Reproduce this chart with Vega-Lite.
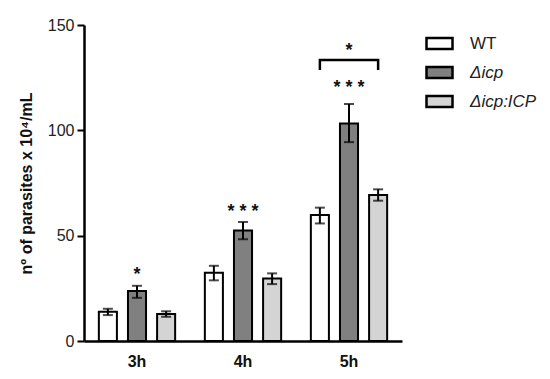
{
  "$schema": "https://vega.github.io/schema/vega-lite/v6.json",
  "width": 318,
  "height": 316,
  "autosize": "none",
  "padding": {"left": 84, "top": 25, "right": 148, "bottom": 38},
  "background": "white",
  "config": {"view": {"stroke": null}, "font": "Liberation Sans"},
  "datasets": {
    "bars": [
      {"time": "3h", "strain": "WT", "value": 13.9, "lo": 12.3, "hi": 15.3},
      {"time": "3h", "strain": "Δicp", "value": 23.7, "lo": 20.5, "hi": 26.2},
      {"time": "3h", "strain": "Δicp:ICP", "value": 12.8, "lo": 11.5, "hi": 14.1},
      {"time": "4h", "strain": "WT", "value": 32.4, "lo": 28.8, "hi": 35.7},
      {"time": "4h", "strain": "Δicp", "value": 52.4, "lo": 48.3, "hi": 56.5},
      {"time": "4h", "strain": "Δicp:ICP", "value": 29.7, "lo": 27.0, "hi": 32.1},
      {"time": "5h", "strain": "WT", "value": 59.8, "lo": 55.8, "hi": 63.3},
      {"time": "5h", "strain": "Δicp", "value": 103.3, "lo": 94.4, "hi": 112.5},
      {"time": "5h", "strain": "Δicp:ICP", "value": 69.3, "lo": 66.6, "hi": 72.0}
    ],
    "stars": [
      {"time": "3h", "strain": "Δicp", "y": 33.7, "label": "*"},
      {"time": "4h", "strain": "Δicp", "y": 63.6, "label": "* * *"},
      {"time": "5h", "strain": "Δicp", "y": 122.4, "label": "* * *"},
      {"time": "5h", "strain": "Δicp", "y": 140.0, "label": "*"}
    ],
    "bracket": [
      {"time": "5h", "strain": "WT", "y": 128.6, "step": 1},
      {"time": "5h", "strain": "WT", "y": 133.4, "step": 2},
      {"time": "5h", "strain": "Δicp:ICP", "y": 133.4, "step": 3},
      {"time": "5h", "strain": "Δicp:ICP", "y": 128.6, "step": 4}
    ]
  },
  "encoding": {
    "x": {
      "field": "time",
      "type": "nominal",
      "scale": {"domain": ["3h", "4h", "5h"], "paddingInner": 0, "paddingOuter": 0},
      "axis": {
        "title": null,
        "labelAngle": 0,
        "ticks": false,
        "domainColor": "black",
        "domainWidth": 2.5,
        "labelFontSize": 16,
        "labelFontWeight": "bold",
        "labelColor": "#111",
        "labelPadding": 12
      }
    },
    "xOffset": {
      "field": "strain",
      "type": "nominal",
      "scale": {"domain": ["WT", "Δicp", "Δicp:ICP"], "paddingInner": 0.38, "paddingOuter": 0.51}
    }
  },
  "layer": [
    {
      "data": {"name": "bars"},
      "mark": {"type": "bar", "stroke": "black", "strokeWidth": 2},
      "encoding": {
        "y": {
          "field": "value",
          "type": "quantitative",
          "scale": {"domain": [0, 150], "nice": false},
          "axis": {
            "values": [0, 50, 100, 150],
            "grid": false,
            "domainColor": "black",
            "domainWidth": 2.5,
            "tickColor": "black",
            "tickWidth": 2,
            "tickSize": 7,
            "labelFontSize": 16,
            "labelColor": "#222",
            "labelPadding": 3,
            "title": "nº of parasites x 10⁴/mL",
            "titleFontSize": 16,
            "titleFontWeight": "bold",
            "titleColor": "#111",
            "titleAngle": -90,
            "titleX": -58,
            "titleY": 158,
            "titleBaseline": "middle",
            "titleAlign": "center"
          }
        },
        "color": {
          "field": "strain",
          "type": "nominal",
          "scale": {"domain": ["WT", "Δicp", "Δicp:ICP"], "range": ["#ffffff", "#808080", "#d4d4d4"]},
          "legend": {
            "title": null,
            "orient": "none",
            "legendX": 341,
            "legendY": 4,
            "padding": 0,
            "symbolType": "M-1,-0.42H1V0.42H-1Z",
            "symbolSize": 676,
            "symbolStrokeColor": "black",
            "symbolStrokeWidth": 2.5,
            "rowPadding": 4,
            "labelOffset": 16,
            "labelFontSize": 17,
            "labelColor": "#222",
            "labelLimit": 300,
            "encode": {
              "labels": {
                "update": {
                  "fontStyle": {"signal": "datum.value == 'WT' ? 'normal' : 'italic'"}
                }
              }
            }
          }
        }
      }
    },
    {
      "data": {"name": "bars"},
      "mark": {"type": "rule", "color": "black", "strokeWidth": 2},
      "encoding": {
        "y": {"field": "lo", "type": "quantitative"},
        "y2": {"field": "hi"}
      }
    },
    {
      "data": {"name": "bars"},
      "mark": {"type": "tick", "color": "black", "size": 10, "thickness": 2, "orient": "horizontal"},
      "encoding": {
        "y": {"field": "lo", "type": "quantitative"}
      }
    },
    {
      "data": {"name": "bars"},
      "mark": {"type": "tick", "color": "black", "size": 10, "thickness": 2, "orient": "horizontal"},
      "encoding": {
        "y": {"field": "hi", "type": "quantitative"}
      }
    },
    {
      "data": {"name": "stars"},
      "mark": {"type": "text", "fontSize": 18, "fontWeight": "bold", "color": "#111", "baseline": "alphabetic", "dy": 10, "align": "center"},
      "encoding": {
        "y": {"field": "y", "type": "quantitative"},
        "text": {"field": "label"}
      }
    },
    {
      "data": {"name": "bracket"},
      "mark": {"type": "line", "color": "black", "strokeWidth": 2.5, "interpolate": "linear"},
      "encoding": {
        "y": {"field": "y", "type": "quantitative"},
        "order": {"field": "step", "type": "quantitative"}
      }
    }
  ]
}
